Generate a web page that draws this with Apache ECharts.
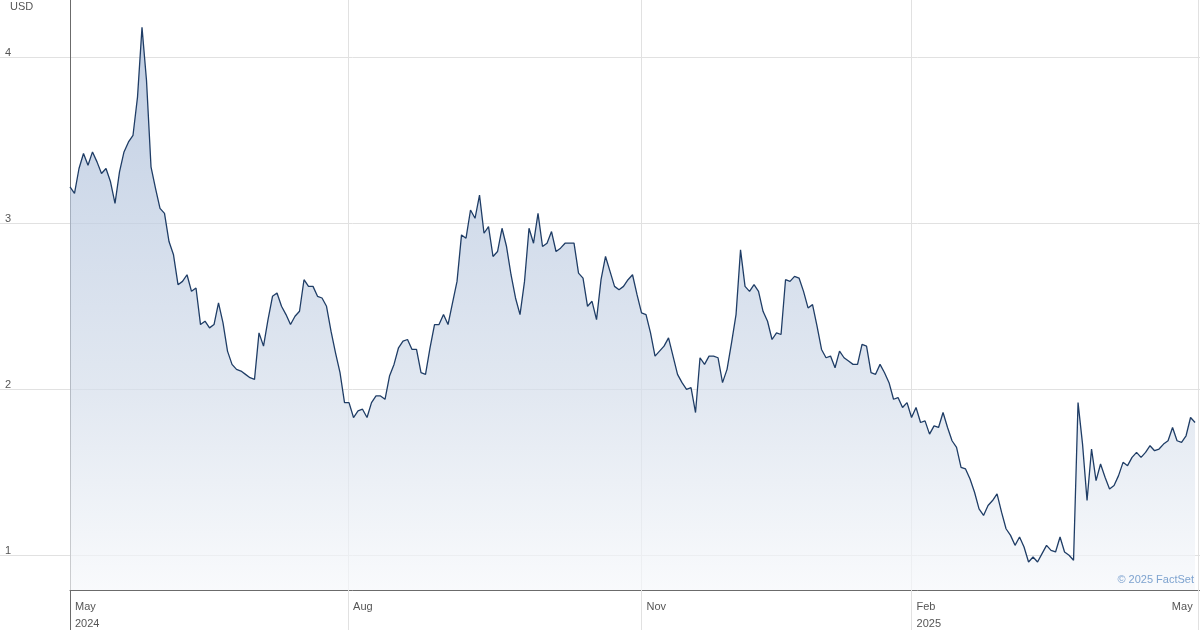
<!DOCTYPE html>
<html>
<head>
<meta charset="utf-8">
<script src="https://cdn.jsdelivr.net/npm/echarts@6/dist/echarts.min.js"></script>
<style>
  html, body { margin: 0; padding: 0; background: #ffffff; }
  #chart { width: 1200px; height: 630px; }
</style>
</head>
<body>
<div id="chart"></div>
<script>
// Daily closing prices (USD), one per trading day, May 2024 – Apr 2025
const prices = [
  3.22,3.18,3.33,3.42,3.35,3.43,3.37,3.30,3.33,3.25,
  3.12,3.31,3.43,3.49,3.53,3.76,4.18,3.86,3.34,3.21,
  3.09,3.06,2.89,2.81,2.63,2.65,2.69,2.59,2.61,2.39,
  2.41,2.37,2.39,2.52,2.40,2.23,2.15,2.12,2.11,2.09,
  2.07,2.06,2.34,2.26,2.42,2.56,2.58,2.50,2.45,2.39,
  2.44,2.47,2.66,2.62,2.62,2.56,2.55,2.50,2.35,2.22,
  2.10,1.92,1.92,1.83,1.87,1.88,1.83,1.92,1.96,1.96,
  1.94,2.08,2.15,2.25,2.29,2.30,2.24,2.24,2.10,2.09,
  2.25,2.39,2.39,2.45,2.39,2.52,2.65,2.93,2.91,3.08,
  3.03,3.17,2.94,2.98,2.80,2.83,2.97,2.86,2.69,2.55,
  2.45,2.65,2.97,2.88,3.06,2.86,2.88,2.95,2.83,2.85,
  2.88,2.88,2.88,2.70,2.67,2.50,2.53,2.42,2.66,2.80,
  2.71,2.62,2.60,2.62,2.66,2.69,2.57,2.46,2.45,2.34,
  2.20,2.23,2.26,2.31,2.20,2.09,2.04,2.00,2.01,1.86,
  2.19,2.15,2.20,2.20,2.19,2.04,2.12,2.28,2.45,2.84,
  2.62,2.59,2.63,2.59,2.47,2.41,2.30,2.34,2.33,2.66,
  2.65,2.68,2.67,2.59,2.49,2.51,2.38,2.24,2.19,2.20,
  2.13,2.23,2.19,2.17,2.15,2.15,2.27,2.26,2.10,2.09,
  2.15,2.10,2.04,1.94,1.95,1.89,1.92,1.83,1.89,1.80,
  1.81,1.73,1.78,1.77,1.86,1.77,1.69,1.65,1.53,1.52,
  1.46,1.38,1.28,1.24,1.30,1.33,1.37,1.26,1.16,1.12,
  1.06,1.11,1.05,0.96,0.99,0.96,1.01,1.06,1.03,1.02,
  1.11,1.02,1.00,0.97,1.92,1.67,1.33,1.64,1.45,1.55,
  1.47,1.40,1.42,1.48,1.56,1.54,1.59,1.62,1.59,1.62,
  1.66,1.63,1.64,1.67,1.69,1.77,1.69,1.68,1.72,1.83,
  1.80
];

// Month boundaries, in trading-day index units, and their labels
const monthTickPos = [0, 61.8, 127, 187, 250.8];
const monthTickLabels = ['May\n2024', 'Aug', 'Nov', 'Feb\n2025', 'May'];

// Price axis ticks
const priceTicks = [1, 2, 3, 4];

const FONT = "'Liberation Sans', Arial, Helvetica, sans-serif";
const GRID_COLOR = '#e1e1e1';
const AXIS_COLOR = '#6b6b6b';
const LABEL_COLOR = '#555555';

const chart = echarts.init(document.getElementById('chart'), null, { renderer: 'canvas' });

const seriesData = prices.map((v, i) => [i, v]);

function monthLabel(value) {
  for (let k = 0; k < monthTickPos.length; k++) {
    if (Math.abs(monthTickPos[k] - value) < 0.01) return monthTickLabels[k];
  }
  return '';
}

chart.setOption({
  animation: false,
  backgroundColor: '#ffffff',
  textStyle: { fontFamily: FONT },
  title: [
    {
      text: 'USD',
      left: 5, top: -4,
      textStyle: { fontSize: 11, fontWeight: 'normal', color: LABEL_COLOR, fontFamily: FONT }
    },
    {
      text: '© 2025 FactSet',
      right: 1, top: 569,
      textStyle: { fontSize: 11, fontWeight: 'normal', color: '#7ea3cf', fontFamily: FONT }
    }
  ],
  grid: {
    left: 70, right: 0, top: 0, bottom: 40,
    outerBoundsMode: 'none',
    containLabel: false
  },
  xAxis: [
    {
      type: 'value',
      min: 0,
      max: 251.1,
      axisLine: { show: true, onZero: false, lineStyle: { color: AXIS_COLOR, width: 1 } },
      axisTick: {
        show: true,
        customValues: monthTickPos,
        length: 40,
        inside: false,
        lineStyle: { color: GRID_COLOR, width: 1 }
      },
      splitLine: { show: true, lineStyle: { color: GRID_COLOR, width: 1 } },
      axisLabel: {
        show: true,
        customValues: monthTickPos,
        formatter: monthLabel,
        align: 'left',
        alignMaxLabel: 'right',
        verticalAlign: 'top',
        margin: 8,
        padding: [0, 6, 0, 5],
        lineHeight: 17,
        fontSize: 11,
        color: LABEL_COLOR,
        fontFamily: FONT
      }
    },
    {
      type: 'value',
      position: 'bottom',
      offset: 0,
      min: 0,
      max: 251.1,
      axisLine: { show: false },
      axisTick: {
        show: true,
        customValues: [0],
        length: 40,
        lineStyle: { color: AXIS_COLOR, width: 1 }
      },
      splitLine: { show: false },
      axisLabel: { show: false }
    }
  ],
  yAxis: {
    type: 'value',
    min: 0.791,
    max: 4.345,
    axisLine: { show: true, onZero: false, lineStyle: { color: AXIS_COLOR, width: 1 } },
    axisTick: {
      show: true,
      customValues: priceTicks,
      length: 70,
      inside: false,
      lineStyle: { color: GRID_COLOR, width: 1 }
    },
    splitLine: { show: true, lineStyle: { color: GRID_COLOR, width: 1 } },
    axisLabel: {
      show: true,
      customValues: priceTicks,
      align: 'left',
      verticalAlign: 'bottom',
      margin: 65,
      lineHeight: 8,
      fontSize: 11,
      color: LABEL_COLOR,
      fontFamily: FONT
    }
  },
  series: [{
    type: 'line',
    xAxisIndex: 0,
    data: seriesData,
    symbol: 'none',
    smooth: false,
    lineStyle: { color: '#1f3d66', width: 1.3 },
    areaStyle: {
      origin: 'start',
      color: new echarts.graphic.LinearGradient(0, 0, 0, 1, [
        { offset: 0, color: '#a6b9d6' },
        { offset: 0.3, color: '#bccbe1' },
        { offset: 0.65, color: '#d5deeb' },
        { offset: 1, color: '#f6f8fb' }
      ])
    },
    z: 3
  }]
});
</script>
</body>
</html>
